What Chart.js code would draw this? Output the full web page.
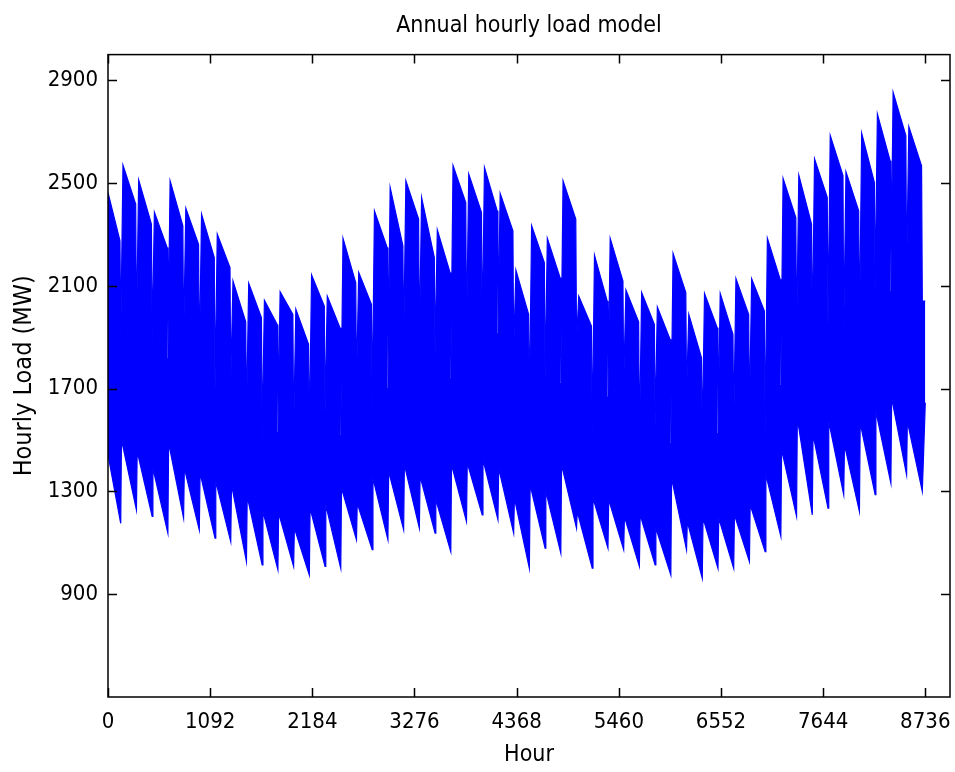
<!DOCTYPE html>
<html>
<head>
<meta charset="utf-8">
<script src="https://cdn.jsdelivr.net/npm/chart.js@4"></script>
<style>
  html, body { margin: 0; padding: 0; background: #fff; }
  #wrap { width: 955px; height: 772px; }
</style>
</head>
<body>
<div id="wrap"><canvas id="load-chart" width="955" height="772"></canvas></div>
<script>
// weekly envelope of the hourly load (MW), one entry per week
const weekPeak = [2463, 2570, 2512, 2386, 2509, 2402, 2379, 2301, 2119, 2110, 2044, 2077, 2009,
  2142, 2060, 2285, 2152, 2392, 2483, 2509, 2444, 2318, 2568, 2535, 2561, 2460,
  2161, 2334, 2285, 2509, 2060, 2219, 2285, 2084, 2074, 2018, 2226, 1989, 2070,
  2070, 2128, 2128, 2285, 2518, 2531, 2594, 2685, 2544, 2694, 2769, 2853, 2720];
const weekFriHigh = [2275, 2418, 2340, 2249, 2334, 2262, 2210, 2171, 1960, 1976, 1950, 1989, 1872,
  2021, 1937, 2112, 2028, 2249, 2256, 2360, 2210, 2152, 2424, 2386, 2392, 2314,
  1989, 2191, 2132, 2360, 1943, 2041, 2119, 1960, 1950, 1892, 2074, 1820, 1937,
  1911, 1989, 2002, 2126, 2366, 2340, 2444, 2529, 2392, 2502, 2587, 2685, 2567];
const weekendHigh = [1892, 1924, 1885, 1820, 1885, 1807, 1697, 1729, 1586, 1508, 1534, 1534, 1508,
  1606, 1521, 1716, 1619, 1703, 1866, 1879, 1840, 1742, 1911, 1905, 1918, 1846,
  1619, 1736, 1723, 1885, 1514, 1670, 1716, 1495, 1560, 1489, 1677, 1495, 1528,
  1554, 1593, 1528, 1716, 1892, 1898, 1950, 1918, 1911, 2080, 2080, 2145, 2041];
const weekStartLow = [1443, 1502, 1456, 1391, 1489, 1391, 1372, 1339, 1326, 1281, 1222, 1216, 1157,
  1235, 1248, 1313, 1254, 1352, 1378, 1404, 1359, 1268, 1404, 1411, 1424, 1391,
  1274, 1326, 1300, 1404, 1222, 1274, 1268, 1202, 1209, 1157, 1352, 1183, 1196,
  1196, 1209, 1248, 1365, 1463, 1586, 1521, 1573, 1482, 1567, 1612, 1664, 1573];
const weekendLow = [1176, 1228, 1203, 1138, 1196, 1150, 1118, 1105, 1027, 1014, 995, 1008, 975,
  1008, 1001, 1112, 1073, 1112, 1151, 1157, 1138, 1066, 1183, 1209, 1190, 1138,
  1001, 1079, 1060, 1157, 1001, 1079, 1073, 1008, 1014, 975, 1073, 962, 1001,
  1001, 1027, 1066, 1125, 1203, 1209, 1235, 1287, 1222, 1287, 1332, 1365, 1300];

// last partial week, at the final hour
const lastHour = 8736;
const lastHigh = 2041;
const lastLow = 1645;

const firstWeekendHour = 136;
const hoursPerWeek = 168;

const xTicks = [0, 1092, 2184, 3276, 4368, 5460, 6552, 7644, 8736];
const yTicks = [900, 1300, 1700, 2100, 2500, 2900];

const fontFamily = "'DejaVu Sans Condensed', 'Liberation Sans', sans-serif";

// upper and lower edges of the load band
let upperEdge = [];
let lowerEdge = [];
for (let w = 0; w < weekPeak.length; w++) {
    let weekend = firstWeekendHour + w * hoursPerWeek;
    let prevWeekend = weekend - hoursPerWeek;
    upperEdge.push({x: w === 0 ? 0 : prevWeekend + 24, y: weekPeak[w]});
    upperEdge.push({x: weekend - 8, y: weekFriHigh[w]});
    upperEdge.push({x: weekend, y: weekendHigh[w]});
    lowerEdge.push({x: w === 0 ? 0 : prevWeekend + 8, y: weekStartLow[w]});
    lowerEdge.push({x: weekend, y: weekendLow[w]});
}
upperEdge.push({x: lastHour, y: lastHigh});
lowerEdge.push({x: lastHour, y: lastLow});

// MATLAB style box with ticks pointing inwards
const boxTicks = {
    id: 'boxTicks',
    afterDraw(chart) {
        const ctx = chart.ctx;
        const area = chart.chartArea;
        const xs = chart.scales.x;
        const ys = chart.scales.y;
        const len = 9;
        ctx.save();
        ctx.strokeStyle = '#000';
        ctx.lineWidth = 1.5;
        ctx.beginPath();
        for (let v of xTicks) {
            let px = Math.round(xs.getPixelForValue(v)) + 0.5;
            ctx.moveTo(px, area.bottom);
            ctx.lineTo(px, area.bottom - len);
            ctx.moveTo(px, area.top);
            ctx.lineTo(px, area.top + len);
        }
        for (let v of yTicks) {
            let py = Math.round(ys.getPixelForValue(v)) + 0.5;
            ctx.moveTo(area.left, py);
            ctx.lineTo(area.left + len, py);
            ctx.moveTo(area.right, py);
            ctx.lineTo(area.right - len, py);
        }
        ctx.stroke();
        ctx.strokeRect(area.left, area.top, area.right - area.left, area.bottom - area.top);
        ctx.restore();
    }
};

const ctx = document.getElementById('load-chart');
new Chart(ctx, {
    type: 'line',
    data: {
        datasets: [
            {
                data: upperEdge,
                borderColor: '#0000ff',
                backgroundColor: '#0000ff',
                borderWidth: 1.2,
                pointRadius: 0,
                fill: false,
            },
            {
                data: lowerEdge,
                borderColor: '#0000ff',
                backgroundColor: '#0000ff',
                borderWidth: 1.2,
                pointRadius: 0,
                fill: '-1',
            }
        ]
    },
    options: {
        responsive: false,
        animation: false,
        layout: {padding: {left: 0, right: 5, top: 0, bottom: 0}},
        plugins: {
            legend: {display: false},
            tooltip: {enabled: false},
            title: {
                display: true,
                fullSize: false,
                text: 'Annual hourly load model',
                color: '#000',
                font: {family: fontFamily, size: 23, weight: 'normal'},
                padding: {top: 12, bottom: 15}
            }
        },
        scales: {
            x: {
                type: 'linear',
                min: 0,
                max: 9000,
                afterFit(scale) {
                    scale.height = 75;
                    scale.paddingLeft = 0;
                    scale.paddingRight = 0;
                },
                afterBuildTicks(scale) { scale.ticks = xTicks.map(v => ({value: v})); },
                grid: {display: false},
                border: {display: false},
                ticks: {
                    color: '#000',
                    padding: 4,
                    maxRotation: 0,
                    autoSkip: false,
                    font: {family: fontFamily, size: 22},
                    callback: v => String(v)
                },
                title: {
                    display: true,
                    text: 'Hour',
                    color: '#000',
                    font: {family: fontFamily, size: 23},
                    padding: {top: 0, bottom: 3}
                }
            },
            y: {
                min: 500,
                max: 3000,
                afterFit(scale) {
                    scale.width = 108;
                    scale.paddingTop = 0;
                    scale.paddingBottom = 0;
                },
                afterBuildTicks(scale) { scale.ticks = yTicks.map(v => ({value: v})); },
                grid: {display: false},
                border: {display: false},
                ticks: {
                    color: '#000',
                    padding: 2,
                    autoSkip: false,
                    font: {family: fontFamily, size: 22},
                    callback: v => String(v)
                },
                title: {
                    display: true,
                    text: 'Hourly Load (MW)',
                    color: '#000',
                    font: {family: fontFamily, size: 25},
                    padding: {top: 9, bottom: 0}
                }
            }
        }
    },
    plugins: [boxTicks]
});
</script>
</body>
</html>
